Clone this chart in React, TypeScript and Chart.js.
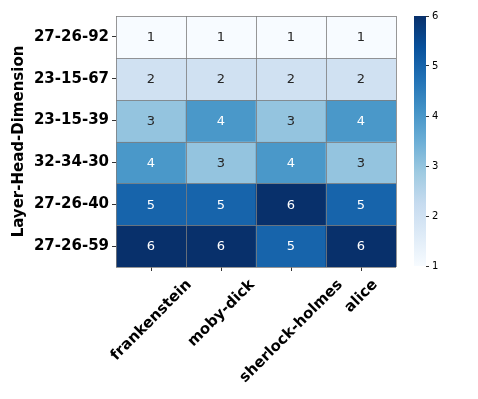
import React, { useEffect, useRef } from "react";
import { Chart, registerables } from "chart.js";
Chart.register(...registerables);

const rowLabels = ["27-26-92", "23-15-67", "23-15-39", "32-34-30", "27-26-40", "27-26-59"];
const colLabels = ["frankenstein", "moby-dick", "sherlock-holmes", "alice"];
const row1 = [1, 1, 1, 1];
const row2 = [2, 2, 2, 2];
const row3 = [3, 4, 3, 4];
const row4 = [4, 3, 4, 3];
const row5 = [5, 5, 6, 5];
const row6 = [6, 6, 5, 6];
const values = [row1, row2, row3, row4, row5, row6];
const colorbarTicks = [1, 2, 3, 4, 5, 6];
const vmin = 1;
const vmax = 6;
const yTitle = "Layer-Head-Dimension";

const FONT = "'DejaVu Sans', sans-serif";

const BLUES: number[][] = [
  [247, 251, 255], [222, 235, 247], [198, 219, 239], [158, 202, 225], [107, 174, 214],
  [66, 146, 198], [33, 113, 181], [8, 81, 156], [8, 48, 107],
];

function bluesRGB(t: number): number[] {
  const tt = Math.max(0, Math.min(1, t)) * (BLUES.length - 1);
  const i = Math.min(Math.floor(tt), BLUES.length - 2);
  const f = tt - i;
  const a = BLUES[i], b = BLUES[i + 1];
  return [0, 1, 2].map((k) => Math.round(a[k] + (b[k] - a[k]) * f));
}
function colorFor(v: number): string {
  const c = bluesRGB((v - vmin) / (vmax - vmin));
  return `rgb(${c[0]},${c[1]},${c[2]})`;
}
function textColorFor(v: number): string {
  const c = bluesRGB((v - vmin) / (vmax - vmin)).map((x) => {
    const s = x / 255;
    return s <= 0.03928 ? s / 12.92 : Math.pow((s + 0.055) / 1.055, 2.4);
  });
  const lum = 0.2126 * c[0] + 0.7152 * c[1] + 0.0722 * c[2];
  return lum > 0.408 ? "#262626" : "#ffffff";
}

const heatPlugin = {
  id: "heat",
  afterDatasetsDraw(chart: any) {
    const { ctx, scales } = chart;
    const x = scales.x, y = scales.y;
    ctx.save();
    // cell text
    ctx.font = `13px ${FONT}`;
    ctx.textAlign = "center";
    ctx.textBaseline = "middle";
    values.forEach((row, i) => {
      const meta = chart.getDatasetMeta(i);
      row.forEach((v, j) => {
        const el = meta.data[j];
        if (!el) return;
        const p = el.getProps(["x", "y", "base"], true);
        ctx.fillStyle = textColorFor(v);
        ctx.fillText(String(v), p.x, (p.y + p.base) / 2 + 1);
      });
    });
    // cell grid lines
    ctx.strokeStyle = "rgba(125,125,125,0.8)";
    ctx.lineWidth = 1;
    const top = y.getPixelForValue(0), bottom = y.getPixelForValue(rowLabels.length);
    const left = x.getPixelForValue(-0.5), right = x.getPixelForValue(colLabels.length - 0.5);
    ctx.beginPath();
    for (let j = 0; j <= colLabels.length; j++) {
      const px = Math.round(x.getPixelForValue(j - 0.5)) + 0.5;
      ctx.moveTo(px, top);
      ctx.lineTo(px, bottom);
    }
    for (let i = 0; i <= rowLabels.length; i++) {
      const py = Math.round(y.getPixelForValue(i)) + 0.5;
      ctx.moveTo(left, py);
      ctx.lineTo(right, py);
    }
    ctx.stroke();
    ctx.restore();
  },
  afterDraw(chart: any) {
    const { ctx, scales } = chart;
    const x = scales.x;
    ctx.save();
    ctx.font = `bold 15px ${FONT}`;
    ctx.fillStyle = "#000";
    ctx.textAlign = "center";
    ctx.textBaseline = "alphabetic";
    const a = 11.5;
    const topY = chart.chartArea.bottom + 10;
    colLabels.forEach((lab, j) => {
      const tx = x.getPixelForTick(j);
      const w = ctx.measureText(lab).width;
      ctx.save();
      ctx.translate(tx + 0.354 * a - 1, topY + 0.7071 * (w / 2 + a));
      ctx.rotate(-Math.PI / 4);
      ctx.fillText(lab, 0, 0);
      ctx.restore();
    });
    ctx.restore();
  },
};

export default function App() {
  const mainRef = useRef<HTMLCanvasElement>(null);
  const cbRef = useRef<HTMLCanvasElement>(null);

  useEffect(() => {
    document.body.style.margin = "0";
    const main = new Chart(mainRef.current as HTMLCanvasElement, {
      type: "bar",
      data: {
        labels: colLabels,
        datasets: rowLabels.map((r, i) => ({
          label: r,
          data: values[i].map(() => [i, i + 1]) as any,
          backgroundColor: values[i].map((v) => colorFor(v)),
          borderWidth: 0,
          categoryPercentage: 1,
          barPercentage: 1,
          stack: "cells",
        })),
      },
      options: {
        animation: false,
        responsive: false,
        devicePixelRatio: 1,
        layout: { padding: { left: 0, top: 16, right: 82, bottom: 0 } },
        plugins: { legend: { display: false }, tooltip: { enabled: false } },
        scales: {
          x: {
            type: "category",
            offset: true,
            stacked: true,
            grid: { display: true, drawOnChartArea: false, drawTicks: true, tickLength: 4, color: "#333", offset: false },
            border: { display: false },
            ticks: { display: false },
            afterFit: (s: any) => { s.height = 132; },
          },
          y: {
            type: "linear",
            min: 0,
            max: rowLabels.length,
            reverse: true,
            stacked: false,
            afterBuildTicks: (s: any) => { s.ticks = rowLabels.map((_r, i) => ({ value: i + 0.5 })); },
            ticks: {
              autoSkip: false,
              callback: (_v: any, idx: number) => rowLabels[idx],
              font: { family: FONT, size: 15, weight: "bold" },
              color: "#000",
              padding: 3,
            },
            grid: { display: true, drawOnChartArea: false, drawTicks: true, tickLength: 4, color: "#333" },
            border: { display: false },
            title: {
              display: true,
              text: yTitle,
              font: { family: FONT, size: 15, weight: "bold" },
              color: "#000",
              padding: { top: 10, bottom: 0 },
            },
            afterFit: (s: any) => { s.width = 116; },
          },
        },
      } as any,
      plugins: [heatPlugin],
    });

    const cb = new Chart(cbRef.current as HTMLCanvasElement, {
      type: "bar",
      data: {
        labels: [""],
        datasets: [{
          data: [[vmin, vmax]] as any,
          borderWidth: 0,
          categoryPercentage: 1,
          barPercentage: 1,
          backgroundColor: (c: any) => {
            const ch = c.chart;
            const ys = ch.scales.y;
            if (!ch.chartArea || !ys) return colorFor(vmax);
            const g = ch.ctx.createLinearGradient(0, ys.getPixelForValue(vmin), 0, ys.getPixelForValue(vmax));
            BLUES.forEach((col, k) => g.addColorStop(k / (BLUES.length - 1), `rgb(${col[0]},${col[1]},${col[2]})`));
            return g;
          },
        }],
      },
      options: {
        animation: false,
        responsive: false,
        devicePixelRatio: 1,
        layout: { padding: { left: 14, top: 16, right: 0, bottom: 133 } },
        plugins: { legend: { display: false }, tooltip: { enabled: false } },
        scales: {
          x: { display: false },
          y: {
            position: "right",
            min: vmin,
            max: vmax,
            afterBuildTicks: (s: any) => { s.ticks = colorbarTicks.map((v) => ({ value: v })); },
            ticks: { font: { family: FONT, size: 10 }, color: "#000", padding: 3, autoSkip: false },
            grid: { display: true, drawOnChartArea: false, drawTicks: true, tickLength: 3, color: "#333" },
            border: { display: false },
            afterFit: (s: any) => { s.width = 52; },
          },
        },
      } as any,
    });

    return () => {
      main.destroy();
      cb.destroy();
    };
  }, []);

  return (
    <div style={{ position: "relative", width: 478, height: 399, background: "#fff" }}>
      <canvas ref={mainRef} width={478} height={399} style={{ position: "absolute", left: 0, top: 0 }} />
      <canvas ref={cbRef} width={78} height={399} style={{ position: "absolute", left: 400, top: 0 }} />
    </div>
  );
}
